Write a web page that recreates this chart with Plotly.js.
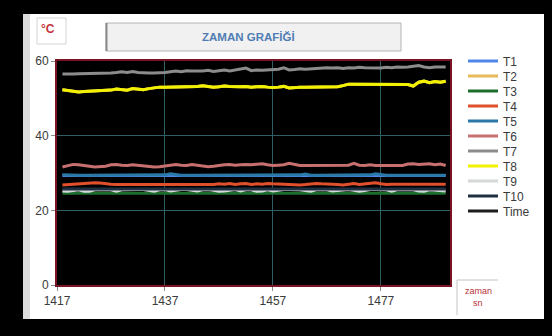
<!DOCTYPE html>
<html>
<head>
<meta charset="utf-8">
<script src="https://cdn.plot.ly/plotly-3.0.1.min.js"></script>
<style>html,body{margin:0;padding:0;background:#fff;}#chart{width:552px;height:336px;}</style>
</head>
<body>
<div id="chart"></div>
<script>
// ---- data (seconds) ----
const time = [1418,1419,1420,1421,1422,1423,1424,1425,1426,1427,1428,1429,1430,1431,1432,1433,1434,1435,1436,1437,1438,1439,1440,1441,1442,1443,1444,1445,1446,1447,1448,1449,1450,1451,1452,1453,1454,1455,1456,1457,1458,1459,1460,1461,1462,1463,1464,1465,1466,1467,1468,1469,1470,1471,1472,1473,1474,1475,1476,1477,1478,1479,1480,1481,1482,1483,1484,1485,1486,1487,1488,1489];

const T1 = [29.3,29.3,29.3,29.3,29.3,29.3,29.3,29.3,29.3,29.3,29.3,29.3,29.3,29.3,29.3,29.3,29.3,29.3,29.3,29.3,29.4,29.3,29.3,29.3,29.3,29.3,29.3,29.3,29.3,29.3,29.3,29.3,29.3,29.3,29.3,29.3,29.3,29.3,29.3,29.3,29.3,29.3,29.3,29.3,29.3,29.4,29.3,29.3,29.3,29.3,29.3,29.3,29.3,29.3,29.3,29.3,29.3,29.3,29.4,29.3,29.3,29.3,29.3,29.3,29.3,29.3,29.3,29.3,29.3,29.3,29.3,29.3];
const T2 = [52.3,52.1,51.8,51.7,51.8,51.9,51.9,52.0,52.0,52.2,52.5,52.3,52.2,52.6,52.4,52.3,52.6,52.9,53.0,53.0,53.0,53.0,53.1,53.1,53.0,53.2,53.4,53.1,53.0,53.1,53.3,53.2,53.1,53.1,53.2,53.0,53.1,53.2,53.0,52.9,53.0,53.2,52.8,53.0,53.0,53.0,53.0,53.0,53.0,53.0,53.0,53.1,53.4,53.8,53.8,53.8,53.8,53.8,53.8,53.8,53.8,53.8,53.8,53.8,53.7,53.3,54.3,54.6,54.2,54.5,54.3,54.6];
const T3 = [24.6,24.5,24.6,24.6,24.5,24.6,24.6,24.7,24.6,24.6,24.5,24.6,24.6,24.6,24.5,24.6,24.6,24.6,24.5,24.6,24.6,24.7,24.6,24.6,24.6,24.5,24.6,24.6,24.6,24.5,24.5,24.6,24.6,24.6,24.7,24.6,24.6,24.5,24.6,24.6,24.6,24.6,24.5,24.6,24.6,24.6,24.7,24.6,24.6,24.6,24.5,24.6,24.6,24.6,24.6,24.6,24.5,24.6,24.6,24.6,24.6,24.7,24.6,24.6,24.6,24.5,24.6,24.6,24.6,24.6,24.5,24.6];
const T4 = [26.8,26.9,27.0,27.1,27.3,27.4,27.4,27.3,27.1,27.0,26.9,26.9,26.9,27.0,26.9,26.9,27.0,26.9,26.9,26.8,26.8,26.9,26.9,26.8,26.9,26.9,26.9,27.0,26.9,27.1,27.0,27.2,26.9,27.1,27.2,26.9,27.1,27.0,27.2,27.1,27.0,26.9,26.8,26.9,26.8,26.9,27.1,27.2,27.1,27.1,27.0,26.9,26.8,27.1,27.2,26.9,27.0,27.2,27.4,27.1,26.9,27.0,27.0,26.9,27.0,27.0,26.9,27.0,27.0,26.9,27.0,27.0];
const T5 = [29.5,29.4,29.4,29.4,29.4,29.4,29.4,29.4,29.4,29.4,29.4,29.4,29.4,29.4,29.4,29.4,29.4,29.4,29.4,29.5,29.8,29.5,29.4,29.4,29.4,29.4,29.4,29.4,29.4,29.4,29.4,29.4,29.4,29.4,29.4,29.4,29.4,29.4,29.4,29.4,29.4,29.4,29.4,29.4,29.5,29.7,29.4,29.4,29.4,29.4,29.4,29.4,29.4,29.4,29.4,29.4,29.4,29.5,29.8,29.5,29.4,29.4,29.4,29.4,29.4,29.4,29.4,29.4,29.4,29.4,29.4,29.4];
const T6 = [31.6,32.0,32.3,32.2,31.9,31.8,31.6,31.6,31.8,32.2,32.3,32.1,32.0,32.2,32.0,31.8,31.7,31.6,31.7,31.9,32.0,32.3,32.1,32.0,32.3,32.1,31.9,31.7,31.8,32.1,32.2,32.3,32.1,32.2,32.3,32.2,32.4,32.5,32.2,32.0,32.1,32.2,32.6,32.2,32.0,32.0,32.0,31.9,31.9,31.9,32.0,32.0,32.0,32.1,32.6,32.1,32.0,32.2,32.0,32.0,32.0,32.1,32.0,32.0,32.4,32.5,32.3,32.4,32.5,32.2,32.4,32.0];
const T7 = [56.5,56.4,56.5,56.6,56.6,56.7,56.6,56.6,56.7,56.8,56.9,57.1,56.9,57.2,56.9,56.8,56.8,56.8,56.8,56.9,57.1,57.3,57.1,57.4,57.3,57.2,57.3,57.5,57.2,57.4,57.6,57.3,57.5,57.7,58.1,57.4,57.6,57.5,57.6,57.5,57.8,58.2,57.6,57.7,57.9,57.8,57.9,58.1,58.0,58.2,58.1,58.2,58.0,58.2,58.1,58.3,58.2,58.2,58.0,58.1,58.3,58.2,58.4,58.3,58.4,58.6,58.8,58.4,58.2,58.4,58.5,58.4];
const T8 = [52.3,52.1,51.8,51.7,51.8,51.9,51.9,52.0,52.0,52.2,52.5,52.3,52.2,52.6,52.4,52.3,52.6,52.9,53.0,53.0,53.0,53.0,53.1,53.1,53.0,53.2,53.4,53.1,53.0,53.1,53.3,53.2,53.1,53.1,53.2,53.0,53.1,53.2,53.0,52.9,53.0,53.2,52.8,53.0,53.0,53.0,53.0,53.0,53.0,53.0,53.0,53.1,53.4,53.8,53.8,53.8,53.8,53.8,53.8,53.8,53.8,53.8,53.8,53.8,53.7,53.3,54.3,54.6,54.2,54.5,54.3,54.6];
const T9 = [25.2,25.1,25.3,25.5,25.1,25.1,25.5,25.6,25.6,25.5,25.1,25.5,25.6,25.6,25.6,25.6,25.4,25.1,25.5,25.6,25.2,25.5,25.6,25.6,25.3,25.2,25.5,25.6,25.4,25.1,25.2,25.5,25.6,25.2,25.5,25.5,25.1,25.2,25.5,25.2,25.5,25.6,25.6,25.6,25.5,25.3,25.1,25.5,25.6,25.5,25.2,25.3,25.6,25.6,25.4,25.1,25.3,25.6,25.6,25.6,25.5,25.1,25.5,25.6,25.6,25.5,25.2,25.1,25.5,25.4,25.1,25.2];
const T10 = [25.7,25.7,25.8,25.7,25.7,25.7,25.7,25.8,25.7,25.7,25.7,25.7,25.7,25.7,25.8,25.7,25.7,25.7,25.7,25.7,25.8,25.7,25.7,25.7,25.7,25.7,25.7,25.7,25.8,25.7,25.7,25.7,25.7,25.7,25.7,25.7,25.8,25.7,25.7,25.7,25.7,25.7,25.7,25.7,25.7,25.8,25.7,25.7,25.7,25.7,25.7,25.7,25.7,25.7,25.7,25.8,25.7,25.7,25.7,25.7,25.7,25.7,25.7,25.7,25.8,25.7,25.7,25.7,25.7,25.7,25.7,25.7];
// "Time" series holds the time itself (far above the 0-60 scale, so it stays off the plot)
const TimeSeries = time;

const names = ['T1','T2','T3','T4','T5','T6','T7','T8','T9','T10','Time'];
const seriesVals = [T1,T2,T3,T4,T5,T6,T7,T8,T9,T10,TimeSeries];
const colors = ['#4f86e8','#e8bb5a','#1e6e2e','#e0502c','#2a78a8','#c87070','#8c8c8c','#f2f200','#d4d8d8','#1f2f42','#1c1c1c'];
const yTicks = [0,20,40,60];
const xTicks = [1417,1437,1457,1477];

// ---- geometry helpers (pixels -> paper) ----
const W = 552, H = 336;
const M = {l:57, r:102, t:61, b:51};
const PW = W - M.l - M.r, PH = H - M.t - M.b;
const px = x => (x - M.l) / PW;
const py = y => (H - M.b - y) / PH;

const traces = names.map((n, i) => ({
  type: 'scatter', mode: 'lines', name: n,
  x: time,
  y: seriesVals[i],
  line: {color: colors[i], width: 3},
  legend: i === 0 ? 'legend' : 'legend' + (i + 1),
  hoverinfo: 'skip'
}));

const layout = {
  width: W, height: H,
  margin: {l: M.l, r: M.r, t: M.t, b: M.b, pad: 0},
  paper_bgcolor: '#ffffff',
  plot_bgcolor: '#000000',
  showlegend: true,
  font: {family: 'Liberation Sans, Arial, sans-serif', color: '#3a3a3a', size: 12},
  xaxis: {
    range: [1417, 1489.8], tickvals: xTicks, ticktext: xTicks.map(String),
    showgrid: true, gridcolor: '#2d5f64', gridwidth: 1, zeroline: false,
    showline: true, linecolor: '#7a1424', linewidth: 2, mirror: true,
    ticks: 'outside', ticklen: 4, tickcolor: '#8a8a8a', tickfont: {size: 12, color: '#3a3a3a'}
  },
  yaxis: {
    range: [0, 60], tickvals: yTicks, ticktext: yTicks.map(String),
    showgrid: true, gridcolor: '#2d5f64', gridwidth: 1, zeroline: false,
    showline: true, linecolor: '#7a1424', linewidth: 2, mirror: true,
    ticks: 'outside', ticklen: 4, tickcolor: '#8a8a8a', tickfont: {size: 12, color: '#3a3a3a'}
  },
  shapes: [
    // outer black frame
    {type:'rect', xref:'paper', yref:'paper', x0:px(0), x1:px(552), y0:py(0), y1:py(14), fillcolor:'#000', line:{width:0}, layer:'above'},
    {type:'rect', xref:'paper', yref:'paper', x0:px(0), x1:px(23), y0:py(0), y1:py(336), fillcolor:'#000', line:{width:0}, layer:'above'},
    {type:'rect', xref:'paper', yref:'paper', x0:px(544), x1:px(552), y0:py(0), y1:py(336), fillcolor:'#000', line:{width:0}, layer:'above'},
    {type:'rect', xref:'paper', yref:'paper', x0:px(0), x1:px(552), y0:py(319), y1:py(336), fillcolor:'#000', line:{width:0}, layer:'above'},
    // light strip on left of panel
    {type:'rect', xref:'paper', yref:'paper', x0:px(23), x1:px(30), y0:py(14), y1:py(319), fillcolor:'#dcdcdc', line:{width:0}, layer:'below'},
    // °C box
    {type:'rect', xref:'paper', yref:'paper', x0:px(37), x1:px(66), y0:py(18), y1:py(44), fillcolor:'#ffffff', line:{color:'#d4d4d4', width:1}, layer:'below'},
    // title box
    {type:'rect', xref:'paper', yref:'paper', x0:px(106), x1:px(401), y0:py(23), y1:py(51), fillcolor:'#f1f1f1', line:{color:'#b4b4b4', width:1}, layer:'below'},
    {type:'line', xref:'paper', yref:'paper', x0:px(106.5), x1:px(106.5), y0:py(23), y1:py(51), line:{color:'#8a8a8a', width:2}, layer:'below'},
    // zaman box borders
    {type:'line', xref:'paper', yref:'paper', x0:px(457), x1:px(498), y0:py(280), y1:py(280), line:{color:'#c4c4c4', width:1}, layer:'below'},
    {type:'line', xref:'paper', yref:'paper', x0:px(457), x1:px(457), y0:py(280), y1:py(315), line:{color:'#c4c4c4', width:1}, layer:'below'}
  ],
  annotations: [
    {xref:'paper', yref:'paper', x:px(48), y:py(29), text:'<b>°C</b>', showarrow:false, xanchor:'center', yanchor:'middle',
     font:{size:12, color:'#c4343e', family:'Liberation Sans, Arial, sans-serif'}},
    {xref:'paper', yref:'paper', x:px(248), y:py(37), text:'<b>ZAMAN GRAFİĞİ</b>', showarrow:false, xanchor:'center', yanchor:'middle',
     font:{size:11.5, color:'#4f7db3', family:'Liberation Sans, Arial, sans-serif'}},
    {xref:'paper', yref:'paper', x:px(478), y:py(291), text:'zaman', showarrow:false, xanchor:'center', yanchor:'middle',
     font:{size:9, color:'#b8323a', family:'Liberation Sans, Arial, sans-serif'}},
    {xref:'paper', yref:'paper', x:px(478), y:py(303), text:'sn', showarrow:false, xanchor:'center', yanchor:'middle',
     font:{size:9, color:'#b8323a', family:'Liberation Sans, Arial, sans-serif'}}
  ]
};

// one small legend per entry so the row spacing matches the original
names.forEach((n, i) => {
  const key = i === 0 ? 'legend' : 'legend' + (i + 1);
  layout[key] = {
    x: px(463), y: py(61 + i * 15), xanchor: 'left', yanchor: 'middle',
    bgcolor: 'rgba(0,0,0,0)', borderwidth: 0,
    font: {size: 12, color: '#3a3a3a', family: 'Liberation Sans, Arial, sans-serif'}
  };
});

Plotly.newPlot('chart', traces, layout, {staticPlot: true, displayModeBar: false});
</script>
</body>
</html>
